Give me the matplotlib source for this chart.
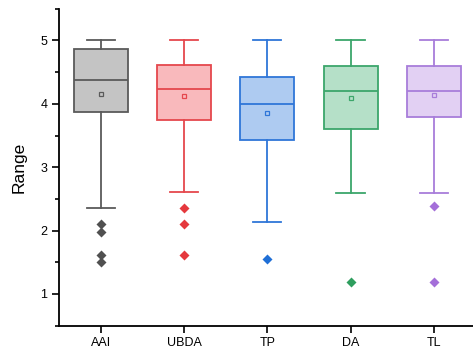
import numpy as np
import matplotlib
matplotlib.use('Agg')
import matplotlib.pyplot as plt

plt.rcParams['font.family'] = ['Liberation Sans', 'DejaVu Sans']

# box statistics
groups = ['AAI', 'UBDA', 'TP', 'DA', 'TL']
whislo = [2.36, 2.61, 2.13, 2.59, 2.59]
q1 = [3.87, 3.75, 3.43, 3.60, 3.80]
med = [4.38, 4.24, 3.99, 4.20, 4.20]
q3 = [4.87, 4.62, 4.42, 4.59, 4.59]
whishi = [5.0, 5.0, 5.0, 5.0, 5.0]
means = [4.16, 4.12, 3.86, 4.09, 4.14]
fliers = [
    [2.11, 1.98, 1.61, 1.50],
    [2.36, 2.11, 1.61],
    [1.55],
    [1.19],
    [2.39, 1.19],
]

face_colors = ['#c4c4c4', '#f9b9bc', '#aecbf1', '#b5e0c8', '#e2d0f3']
edge_colors = ['#5a5a5a', '#e5484d', '#2f76d8', '#3ca66b', '#a87dda']
flier_colors = ['#505050', '#e5383d', '#1f6fd6', '#2e9e5e', '#a46fd9']

fig = plt.figure(figsize=(4.73, 3.52), dpi=100)
ax = fig.add_axes([0.125, 0.075, 0.875, 0.9])

for i in range(len(groups)):
    stats = [dict(label=groups[i], whislo=whislo[i], q1=q1[i], med=med[i],
                  q3=q3[i], whishi=whishi[i], mean=means[i], fliers=fliers[i])]
    ec = edge_colors[i]
    ax.bxp(stats, positions=[i + 1], widths=0.65, patch_artist=True,
           showmeans=True, capwidths=0.34,
           boxprops=dict(facecolor=face_colors[i], edgecolor=ec, linewidth=1.3),
           medianprops=dict(color=ec, linewidth=1.3),
           whiskerprops=dict(color=ec, linewidth=1.3),
           capprops=dict(color=ec, linewidth=1.3),
           meanprops=dict(marker='s', markersize=3.5, markerfacecolor='none',
                          markeredgecolor=ec, markeredgewidth=0.9),
           flierprops=dict(marker='D', markersize=5, markerfacecolor=flier_colors[i],
                           markeredgecolor='none'))

ax.set_xlim(0.5, 5.47)
ax.set_ylim(0.5, 5.5)
ax.set_xticks(range(1, len(groups) + 1))
ax.set_xticklabels(groups)
ax.set_yticks([1, 2, 3, 4, 5])
ax.set_yticks(np.arange(0.5, 5.6, 0.5), minor=True)
ax.set_ylabel('Range', fontsize=12.5, labelpad=10)

for side in ['top', 'right']:
    ax.spines[side].set_visible(False)
for side in ['left', 'bottom']:
    ax.spines[side].set_linewidth(1.3)
ax.tick_params(axis='both', which='major', direction='out', length=5, width=1.2, labelsize=9)
ax.tick_params(axis='y', which='minor', direction='out', length=3, width=1.2)
ax.tick_params(axis='x', which='minor', bottom=False)

fig.savefig('out.png', dpi=100)
